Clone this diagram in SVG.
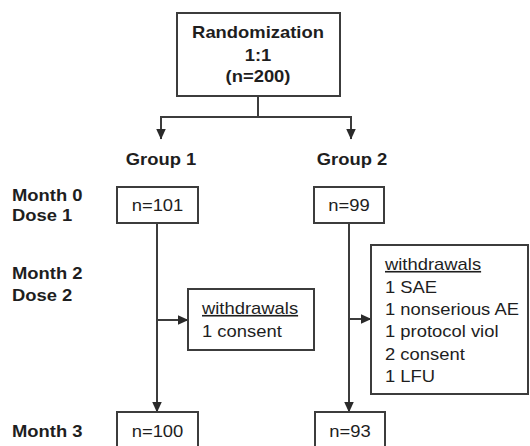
<svg xmlns="http://www.w3.org/2000/svg" width="530" height="446" viewBox="0 0 530 446">
<style>
  .box { fill: #ffffff; stroke: #3c3c3c; stroke-width: 2; }
  .ln { fill: none; stroke: #3c3c3c; stroke-width: 2; }
  .arr { marker-end: url(#ah); }
  text { font-family: "Liberation Sans", Arial, sans-serif; font-size: 16px; fill: #1e1e1e; }
  .b { font-weight: bold; }
  .c { text-anchor: middle; }
  .u { text-decoration: underline; }
</style>
<defs>
  <marker id="ah" viewBox="0 0 11 10" refX="10.5" refY="5" markerWidth="11" markerHeight="10" markerUnits="userSpaceOnUse" orient="auto">
    <path d="M0,0 L11,5 L0,10 z" fill="#2a2a2a"/>
  </marker>
</defs>
<rect width="530" height="446" fill="#ffffff"/>

<g id="connectors">
  <polyline class="ln" points="258,96 258,117"/>
  <polyline class="ln" points="161,117 351,117"/>
  <line class="ln arr" x1="161" y1="116" x2="161" y2="139"/>
  <line class="ln arr" x1="351" y1="116" x2="351" y2="139"/>
  <line class="ln arr" x1="157" y1="223" x2="157" y2="412"/>
  <line class="ln arr" x1="349" y1="223" x2="349" y2="412"/>
  <line class="ln arr" x1="157" y1="320" x2="188" y2="320"/>
  <line class="ln arr" x1="349" y1="319" x2="371" y2="319"/>
</g>

<g id="randomization">
  <rect class="box" x="177" y="13" width="163" height="83"/>
  <text class="b c" transform="translate(258 38) scale(1.15 1)">Randomization</text>
  <text class="b c" transform="translate(258 61) scale(1.15 1)">1:1</text>
  <text class="b c" transform="translate(258 82) scale(1.15 1)">(n=200)</text>
</g>

<g id="group1-label">
  <text class="b c" transform="translate(161 165) scale(1.15 1)">Group 1</text>
</g>
<g id="group2-label">
  <text class="b c" transform="translate(352 165) scale(1.15 1)">Group 2</text>
</g>

<g id="row-labels">
  <text class="b" transform="translate(12 200.5) scale(1.15 1)">Month 0</text>
  <text class="b" transform="translate(12 221) scale(1.15 1)">Dose 1</text>
  <text class="b" transform="translate(12 279) scale(1.15 1)">Month 2</text>
  <text class="b" transform="translate(12 301) scale(1.15 1)">Dose 2</text>
  <text class="b" transform="translate(12 437) scale(1.15 1)">Month 3</text>
</g>

<g id="g1-month0">
  <rect class="box" x="117" y="187" width="81" height="36"/>
  <text class="c" transform="translate(157.5 211) scale(1.15 1)">n=101</text>
</g>
<g id="g2-month0">
  <rect class="box" x="314" y="187" width="70" height="36"/>
  <text class="c" transform="translate(349 211) scale(1.15 1)">n=99</text>
</g>

<g id="g1-withdrawals">
  <rect class="box" x="188" y="289" width="126" height="61"/>
  <text class="u" transform="translate(202 314) scale(1.15 1)">withdrawals</text>
  <text transform="translate(202 337) scale(1.15 1)">1 consent</text>
</g>

<g id="g2-withdrawals">
  <rect class="box" x="371" y="245" width="157" height="149"/>
  <text class="u" transform="translate(385 270) scale(1.15 1)">withdrawals</text>
  <text transform="translate(385 292.5) scale(1.15 1)">1 SAE</text>
  <text transform="translate(385 315) scale(1.15 1)">1 nonserious AE</text>
  <text transform="translate(385 337) scale(1.15 1)">1 protocol viol</text>
  <text transform="translate(385 359.5) scale(1.15 1)">2 consent</text>
  <text transform="translate(385 382) scale(1.15 1)">1 LFU</text>
</g>

<g id="g1-month3">
  <rect class="box" x="117" y="412" width="81" height="40"/>
  <text class="c" transform="translate(157.5 437) scale(1.15 1)">n=100</text>
</g>
<g id="g2-month3">
  <rect class="box" x="315" y="412" width="70" height="40"/>
  <text class="c" transform="translate(350 437) scale(1.15 1)">n=93</text>
</g>
</svg>
